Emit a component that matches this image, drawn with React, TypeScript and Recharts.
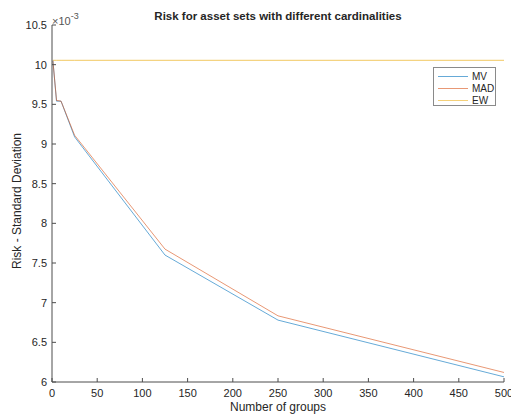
import { LineChart, Line, XAxis, YAxis } from "recharts"

// number of groups (cardinality)
const groups = [1, 5, 10, 25, 125, 250, 500]
// risk values in units of 1e-3
const mvRisk = [10.05, 9.54, 9.54, 9.09, 7.6, 6.78, 6.065]
const madRisk = [10.05, 9.55, 9.54, 9.11, 7.675, 6.834, 6.12]
const ewRisk = [10.055, 10.055, 10.055, 10.055, 10.055, 10.055, 10.055]

const xTicks = [0, 50, 100, 150, 200, 250, 300, 350, 400, 450, 500]
const yTicks = [6, 6.5, 7, 7.5, 8, 8.5, 9, 9.5, 10, 10.5]

const data = groups.map((g, i) => ({
    groups: g,
    mv: mvRisk[i],
    mad: madRisk[i],
    ew: ewRisk[i],
}))

const FONT = "'Liberation Sans', Arial, sans-serif"
const AXIS = "#4d4d4d"
const TEXT = "#262626"

const XTick = (props: any) => {
    const { x, y, payload } = props
    return (
        <g>
            <line x1={x} y1={y} x2={x} y2={y - 4} stroke={AXIS} strokeWidth={1} />
            <text x={x} y={y + 15} textAnchor="middle" fontSize={11} fill={TEXT} fontFamily={FONT}>
                {payload.value}
            </text>
        </g>
    )
}

const YTick = (props: any) => {
    const { x, y, payload } = props
    return (
        <g>
            <line x1={x} y1={y} x2={x + 4} y2={y} stroke={AXIS} strokeWidth={1} />
            <text x={x - 5} y={y + 4} textAnchor="end" fontSize={11} fill={TEXT} fontFamily={FONT}>
                {payload.value}
            </text>
        </g>
    )
}

const legendItems = [
    { name: "MV", color: "#0072BD" },
    { name: "MAD", color: "#D95319" },
    { name: "EW", color: "#EDB120" },
]

export default function App() {
    return (
        <div style={{ position: "absolute", left: 0, top: 0, width: 511, height: 416, background: "#fff", fontFamily: FONT, color: TEXT }}>
            <LineChart width={511} height={416} data={data} margin={{ top: 25, right: 7, bottom: 4, left: 0 }}>
                <XAxis
                    dataKey="groups"
                    type="number"
                    domain={[0, 500]}
                    ticks={xTicks}
                    height={30}
                    tickSize={0}
                    tickMargin={0}
                    tickLine={false}
                    stroke={AXIS}
                    tick={<XTick />}
                    interval={0}
                />
                <YAxis
                    type="number"
                    domain={[6, 10.5]}
                    ticks={yTicks}
                    width={52}
                    tickSize={0}
                    tickMargin={0}
                    tickLine={false}
                    stroke={AXIS}
                    tick={<YTick />}
                    interval={0}
                />
                <Line dataKey="ew" stroke="#EDB120" strokeOpacity={0.7} strokeWidth={1} dot={false} isAnimationActive={false} />
                <Line dataKey="mv" stroke="#0072BD" strokeOpacity={0.6} strokeWidth={1} dot={false} isAnimationActive={false} />
                <Line dataKey="mad" stroke="#D95319" strokeOpacity={0.6} strokeWidth={1} dot={false} isAnimationActive={false} />
            </LineChart>

            <div style={{ position: "absolute", left: 52, width: 452, top: 10, textAlign: "center", fontSize: 11.5, fontWeight: "bold" }}>
                Risk for asset sets with different cardinalities
            </div>
            <div style={{ position: "absolute", left: 52, top: 12, fontSize: 11, color: "#555" }}>
                ×10<sup style={{ fontSize: 9, position: "relative", top: -1 }}>-3</sup>
            </div>
            <div style={{ position: "absolute", left: 52, width: 452, top: 400, textAlign: "center", fontSize: 12 }}>
                Number of groups
            </div>
            <div
                style={{
                    position: "absolute",
                    left: 17,
                    top: 201,
                    fontSize: 12,
                    whiteSpace: "nowrap",
                    transform: "translate(-50%, -50%) rotate(-90deg)",
                }}
            >
                Risk - Standard Deviation
            </div>
            <div
                style={{
                    position: "absolute",
                    left: 433,
                    top: 67,
                    width: 63,
                    height: 39,
                    border: "1px solid #8a8a8a",
                    background: "#fff",
                    paddingTop: 2,
                    boxSizing: "border-box",
                }}
            >
                {legendItems.map((it) => (
                    <div key={it.name} style={{ display: "flex", alignItems: "center", height: 12, fontSize: 10 }}>
                        <div style={{ width: 30, height: 1, marginLeft: 4, marginRight: 4, background: it.color, opacity: 0.6 }} />
                        <span>{it.name}</span>
                    </div>
                ))}
            </div>
        </div>
    )
}
